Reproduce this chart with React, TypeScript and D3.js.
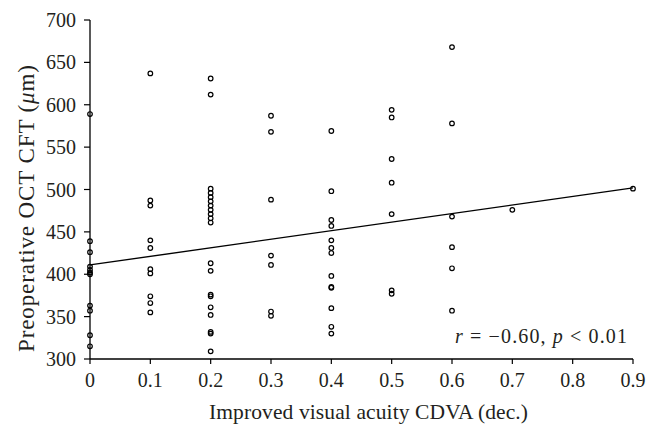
import React from "react";
import * as d3 from "d3";

const xTicks = [0, 0.1, 0.2, 0.3, 0.4, 0.5, 0.6, 0.7, 0.8, 0.9];
const xTickLabels = ["0", "0.1", "0.2", "0.3", "0.4", "0.5", "0.6", "0.7", "0.8", "0.9"];
const yTicks = [300, 350, 400, 450, 500, 550, 600, 650, 700];

const col00 = [589, 439, 426, 409, 405, 402, 400, 363, 357, 328, 315];
const col01 = [637, 487, 481, 440, 431, 406, 401, 374, 366, 355];
const col02 = [631, 612, 501, 496, 491, 486, 481, 476, 471, 466, 461, 413, 404, 376, 374, 361, 352, 332, 330, 309];
const col03 = [587, 568, 488, 422, 411, 356, 351];
const col04 = [569, 498, 464, 457, 440, 431, 425, 398, 385, 384, 360, 338, 330];
const col05 = [594, 585, 536, 508, 471, 381, 377];
const col06 = [668, 578, 468, 432, 407, 357];
const col07 = [476];
const col09 = [501];

const columnX = [0, 0.1, 0.2, 0.3, 0.4, 0.5, 0.6, 0.7, 0.9];
const columnValues = [col00, col01, col02, col03, col04, col05, col06, col07, col09];

const fitIntercept = 411;
const fitSlope = 101;
const fitRange = [0, 0.9];

export default function App() {
  const W = 660, H = 438;
  const left = 90, right = 633, top = 20, bottom = 359;
  const x = d3.scaleLinear().domain([0, 0.9]).range([left, right]);
  const y = d3.scaleLinear().domain([300, 700]).range([bottom, top]);
  const font = "'Liberation Serif', 'Times New Roman', serif";
  const ink = "#231f20";
  const points: { xv: number; yv: number }[] = [];
  columnX.forEach((cx, i) => columnValues[i].forEach((v) => points.push({ xv: cx, yv: v })));
  const line = d3.line<number>().x((d) => x(d)).y((d) => y(fitIntercept + fitSlope * d));

  return (
    <svg width={W} height={H} style={{ position: "absolute", left: 0, top: 0, background: "#fff" }} fontFamily={font}>
      <rect x={0} y={0} width={W} height={H} fill="#fff" />
      {/* axes */}
      <line x1={left} x2={left} y1={top} y2={bottom} stroke="#000" strokeWidth={1.3} />
      <line x1={left} x2={right} y1={bottom} y2={bottom} stroke="#000" strokeWidth={1.3} />
      {yTicks.map((t) => (
        <g key={"y" + t}>
          <line x1={left - 6} x2={left} y1={y(t)} y2={y(t)} stroke="#000" strokeWidth={1.2} />
          <text x={left - 14} y={y(t)} dy="0.35em" textAnchor="end" fontSize={20} fill={ink}>{t}</text>
        </g>
      ))}
      {xTicks.map((t, i) => (
        <g key={"x" + t}>
          <line x1={x(t)} x2={x(t)} y1={bottom} y2={bottom + 5} stroke="#000" strokeWidth={1.2} />
          <text x={x(t)} y={bottom + 28} textAnchor="middle" fontSize={20} fill={ink}>{xTickLabels[i]}</text>
        </g>
      ))}
      {/* fit line */}
      <path d={line(fitRange) || ""} stroke="#000" strokeWidth={1.4} fill="none" />
      {/* points */}
      {points.map((p, i) => (
        <circle key={i} cx={x(p.xv)} cy={y(p.yv)} r={2.3} fill="none" stroke="#000" strokeWidth={1.2} />
      ))}
      {/* annotation */}
      <text x={455} y={343} fontSize={20} fill={ink} textLength={172} lengthAdjust="spacing">
        <tspan fontStyle="italic">r</tspan> = −0.60, <tspan fontStyle="italic">p</tspan> &lt; 0.01
      </text>
      {/* axis titles */}
      <text x={209} y={419} fontSize={21.5} fill={ink} textLength={319} lengthAdjust="spacing">
        Improved visual acuity CDVA (dec.)
      </text>
      <text transform={`translate(34, 352) rotate(-90)`} fontSize={23} fill={ink} textLength={287} lengthAdjust="spacing">
        Preoperative OCT CFT (<tspan fontStyle="italic">μ</tspan>m)
      </text>
    </svg>
  );
}
